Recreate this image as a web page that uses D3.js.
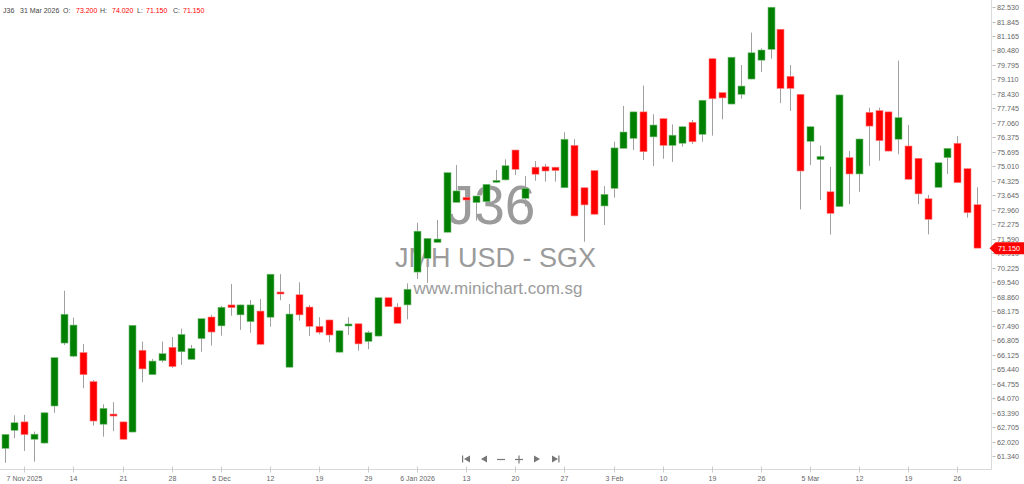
<!DOCTYPE html>
<html><head><meta charset="utf-8">
<script src="https://cdn.jsdelivr.net/npm/d3@7"></script>
<style>html,body{margin:0;padding:0;background:#fff;overflow:hidden}</style>
</head><body><svg id="c" width="1024" height="484"></svg>
<script>
// ---- data ----
const opens  = [61.70,62.55,62.95,62.13,61.95,63.70,66.67,66.05,66.22,64.85,62.84,63.32,62.95,62.47,66.33,65.18,65.84,66.47,66.26,65.90,
                66.88,67.90,67.48,68.47,68.00,67.68,68.18,67.89,69.08,65.53,68.95,68.37,67.46,67.76,66.24,67.49,67.58,66.75,67.00,68.81,
                68.37,68.47,70.02,70.67,71.42,71.90,73.31,73.55,73.30,73.34,74.26,74.37,75.78,73.50,74.97,74.99,74.97,74.00,76.00,74.00,
                74.81,73.14,73.97,75.86,76.33,77.58,76.40,77.26,76.00,76.10,77.09,76.52,80.09,78.49,77.95,78.41,79.13,80.02,80.53,81.48,
                79.26,78.41,76.19,75.33,73.81,73.11,75.42,74.65,77.56,77.64,77.58,76.29,75.97,75.39,73.48,74.02,75.42,76.10,74.90,73.20];
const highs  = [62.37,63.26,63.28,62.49,63.40,65.99,69.14,67.87,66.63,64.93,63.78,63.88,62.96,67.52,66.74,65.92,66.74,66.96,67.35,66.58,
                67.83,68.00,68.42,69.46,68.48,68.70,68.75,69.93,69.92,68.51,69.54,68.47,67.89,67.77,67.26,67.89,67.60,67.25,68.82,68.82,
                68.55,69.49,72.35,71.62,72.48,74.72,75.07,73.89,73.62,74.17,74.84,75.34,75.79,74.56,75.26,75.12,74.98,76.62,76.29,74.01,
                74.83,74.08,76.17,77.86,77.59,78.82,77.47,77.27,76.99,76.89,77.20,78.14,80.10,78.49,80.17,79.79,81.32,80.58,82.53,81.49,
                79.79,78.42,76.89,75.99,74.99,78.39,75.73,76.31,77.78,77.78,77.59,80.00,76.96,75.40,73.66,75.19,75.87,76.44,74.91,74.02];
const lows   = [61.02,62.18,61.58,61.07,61.93,63.38,66.58,66.00,64.54,62.77,62.25,62.51,62.11,62.46,64.82,65.17,65.76,65.49,65.64,65.90,
                66.26,66.55,67.02,67.96,67.29,67.16,66.60,67.44,68.69,65.52,67.73,67.00,67.08,66.71,66.22,67.05,66.31,66.38,66.99,68.38,
                67.59,67.79,69.69,69.51,71.40,71.89,73.30,73.03,72.45,73.33,74.24,74.35,74.60,73.11,74.33,74.29,74.29,73.99,72.65,71.45,
                72.73,72.24,73.53,75.85,75.78,75.31,75.02,75.37,75.22,75.94,76.07,76.17,76.46,77.23,77.94,78.20,79.12,79.46,80.09,77.99,
                77.62,72.98,75.07,73.42,71.79,73.09,73.22,73.81,75.03,75.28,75.72,75.58,74.39,73.22,71.80,74.01,74.65,74.23,72.59,71.15];
const closes = [62.36,62.91,62.35,62.37,63.38,65.98,68.03,67.52,65.18,62.99,63.59,63.23,62.13,67.51,65.45,65.82,66.17,65.56,67.08,66.41,
                67.82,67.19,68.36,68.34,68.47,68.47,66.61,69.92,68.99,68.04,68.00,67.46,67.18,67.05,67.25,67.57,66.63,67.16,68.81,68.39,
                67.60,69.21,71.95,71.61,71.58,74.71,73.85,73.42,73.61,74.16,74.35,75.04,74.87,73.97,74.64,74.79,74.81,76.29,72.67,73.19,
                72.75,73.69,75.88,76.63,77.58,75.70,76.96,76.00,76.48,76.88,76.17,78.13,78.20,78.24,80.16,78.80,80.37,80.50,82.52,78.69,
                78.69,74.79,76.88,75.48,72.79,78.38,74.65,76.30,76.91,76.22,75.73,77.31,74.40,73.71,72.51,75.18,75.86,74.24,72.82,71.15];
const dateTickIndex  = [2,7,12,17,22,27,32,37,42,47,52,57,62,67,72,77,82,87,92,97];
const dateTickLabels = ["7 Nov 2025","14","21","28","5 Dec","12","19","29","6 Jan 2026","13","20","27","3 Feb","10","19","26","5 Mar","12","19","26"];
const priceTickLabels = ["82.530","81.845","81.165","80.480","79.795","79.110","78.430","77.745","77.060","76.375","75.695","75.010",
                         "74.325","73.645","72.960","72.275","71.590","70.910","70.225","69.540","68.860","68.175","67.490","66.805",
                         "66.125","65.440","64.755","64.070","63.390","62.705","62.020","61.340"];
const symbol = "J36";
const lastDate = "31 Mar 2026";
const lastQuote = {O:"73.200", H:"74.020", L:"71.150", C:"71.150"};
const lastPrice = 71.15;

// ---- drawing ----
const svg = d3.select("#c");
const axisX = 991.5, axisY = 469.5;
const n = opens.length;
const x = d3.scaleBand().domain(d3.range(n)).range([-0.25, 981.75]).padding(0);
const y = d3.scaleLinear().domain([61.34, 82.53]).range([456, 7]);
const cx = i => x(i) + x.bandwidth()/2;
const GREEN = "#008000", RED = "#ff0000";
const FONT = "'Liberation Sans', Arial, sans-serif";

// watermark
const wm = svg.append("g").attr("fill", "#9b9b9b").attr("font-family", FONT).attr("text-anchor", "middle");
wm.append("text").attr("x", 491).attr("y", 224).attr("font-size", 55).text(symbol);
wm.append("text").attr("x", 495.5).attr("y", 267).attr("font-size", 27).text("JMH USD - SGX");
wm.append("text").attr("x", 498).attr("y", 294).attr("font-size", 17).text("www.minichart.com.sg");

// axes lines
svg.append("line").attr("x1", axisX).attr("x2", axisX).attr("y1", 0).attr("y2", axisY).attr("stroke", "#d9d9d9");
svg.append("line").attr("x1", 0).attr("x2", axisX).attr("y1", axisY).attr("y2", axisY).attr("stroke", "#d9d9d9");

// y ticks
const yg = svg.append("g").attr("font-family", FONT).attr("font-size", 7.2).attr("fill", "#666");
priceTickLabels.forEach(t => {
  const yy = Math.round(y(+t)) + 0.5;
  yg.append("line").attr("x1", axisX + 1).attr("x2", axisX + 4).attr("y1", yy).attr("y2", yy).attr("stroke", "#bbb");
  yg.append("text").attr("x", 997).attr("y", yy).attr("dy", "0.35em").text(t);
});

// x ticks
const xg = svg.append("g").attr("font-family", FONT).attr("font-size", 7).attr("fill", "#666").attr("text-anchor", "middle");
dateTickIndex.forEach((idx, k) => {
  const xx = Math.round(cx(idx)) + 0.5;
  xg.append("line").attr("x1", xx).attr("x2", xx).attr("y1", axisY - 3).attr("y2", axisY + 3).attr("stroke", "#ccc");
  xg.append("text").attr("x", xx).attr("y", 481).text(dateTickLabels[k]);
});

// candles
const data = d3.range(n).map(i => ({i, o: opens[i], h: highs[i], l: lows[i], c: closes[i]}));
const cg = svg.append("g");
cg.selectAll("line.w").data(data).enter().append("line")
  .attr("x1", d => Math.round(cx(d.i)) + 0.5).attr("x2", d => Math.round(cx(d.i)) + 0.5)
  .attr("y1", d => y(d.h)).attr("y2", d => y(d.l))
  .attr("stroke", "#a0a0a0").attr("stroke-width", 1);
const bw = 7;
cg.selectAll("rect.b").data(data).enter().append("rect")
  .attr("x", d => Math.round(cx(d.i)) + 0.5 - bw/2)
  .attr("width", bw)
  .attr("y", d => y(Math.max(d.o, d.c)))
  .attr("height", d => Math.max(2, y(Math.min(d.o, d.c)) - y(Math.max(d.o, d.c))))
  .attr("fill", d => d.c >= d.o ? GREEN : RED)
  .attr("stroke", d => d.c >= d.o ? "#7fbf7f" : "#ff8080")
  .attr("stroke-width", 0.6);

// last price tag (covers the nearby axis label, as in the reference)
const ly = y(lastPrice);
svg.append("path")
  .attr("d", `M${axisX - 2},${ly} L${axisX + 4},${ly - 6} L1024,${ly - 6} L1024,${ly + 6} L${axisX + 4},${ly + 6} Z`)
  .attr("fill", RED);
svg.append("text").attr("x", 998).attr("y", ly).attr("dy", "0.35em")
  .attr("font-family", FONT).attr("font-size", 7.2).attr("fill", "#fff")
  .text(lastPrice.toFixed(3));

// header
const hg = svg.append("g").attr("font-family", FONT).attr("font-size", 7);
const parts = [[symbol, 3, "#444"], [lastDate, 20, "#444"], ["O:", 63, "#444"], [lastQuote.O, 76, RED], ["H:", 100, "#444"], [lastQuote.H, 112, RED],
               ["L:", 137, "#444"], [lastQuote.L, 146, RED], ["C:", 173, "#444"], [lastQuote.C, 183, RED]];
parts.forEach(p => hg.append("text").attr("x", p[1]).attr("y", 12.5).attr("fill", p[2]).text(p[0]));

// navigation icons
const ng = svg.append("g").attr("fill", "#777").attr("stroke", "#777");
const ny = 459;
ng.append("rect").attr("x", 462).attr("y", ny - 3.5).attr("width", 1.2).attr("height", 7).attr("stroke", "none");
ng.append("path").attr("d", `M470,${ny-3.5} L464,${ny} L470,${ny+3.5} Z`).attr("stroke", "none");
ng.append("path").attr("d", `M487,${ny-3.5} L481,${ny} L487,${ny+3.5} Z`).attr("stroke", "none");
ng.append("line").attr("x1", 497).attr("x2", 505).attr("y1", ny + 0.5).attr("y2", ny + 0.5).attr("stroke-width", 1.2);
ng.append("line").attr("x1", 515).attr("x2", 523).attr("y1", ny + 0.5).attr("y2", ny + 0.5).attr("stroke-width", 1.2);
ng.append("line").attr("x1", 519).attr("x2", 519).attr("y1", ny - 3.5).attr("y2", ny + 4.5).attr("stroke-width", 1.2);
ng.append("path").attr("d", `M534,${ny-3.5} L540,${ny} L534,${ny+3.5} Z`).attr("stroke", "none");
ng.append("path").attr("d", `M552,${ny-3.5} L558,${ny} L552,${ny+3.5} Z`).attr("stroke", "none");
ng.append("rect").attr("x", 558.3).attr("y", ny - 3.5).attr("width", 1.2).attr("height", 7).attr("stroke", "none");
</script></body></html>
